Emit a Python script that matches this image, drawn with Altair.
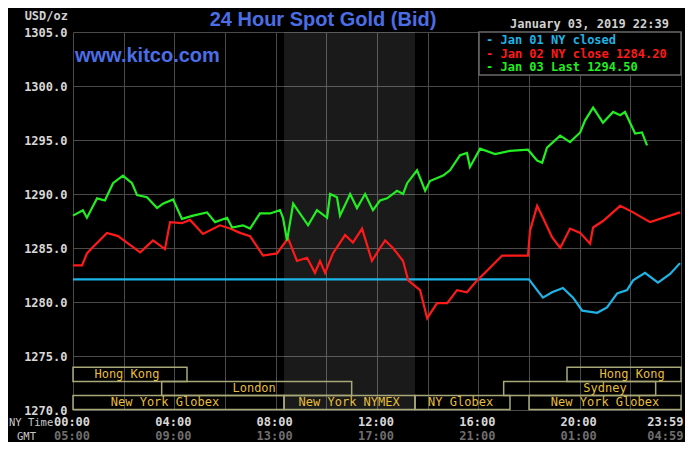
import altair as alt
import pandas as pd

# ---------------- data (hours after 00:00 NY time, USD/oz) ----------------
jan01_h = [0, 18.0, 18.32, 18.55, 18.91, 19.34, 19.74, 20.10, 20.69, 21.08, 21.48,
           21.87, 22.11, 22.58, 23.09, 23.57, 23.96]
jan01_v = [1282.1, 1282.1, 1281.1, 1280.4, 1280.9, 1281.3, 1280.4, 1279.2, 1279.0, 1279.5,
           1280.8, 1281.1, 1282.0, 1282.7, 1281.8, 1282.6, 1283.6]

jan02_h = [0, 0.36, 0.55, 0.79, 1.34, 1.78, 2.13, 2.65, 3.16, 3.63, 3.83, 4.30, 4.62, 5.13,
           5.80, 6.20, 6.59, 6.99, 7.50, 8.05, 8.49, 8.84, 9.24, 9.55, 9.75, 9.95, 10.26,
           10.74, 11.05, 11.41, 11.80, 12.12, 12.32, 12.63, 13.03, 13.23, 13.70, 13.98,
           14.37, 14.77, 15.16, 15.55, 15.95, 16.34, 16.94, 17.96, 18.04, 18.32, 18.55,
           18.91, 19.23, 19.62, 20.02, 20.41, 20.53, 20.92, 21.60, 22.11, 22.78, 23.96]
jan02_v = [1283.4, 1283.4, 1284.5, 1285.1, 1286.4, 1286.1, 1285.5, 1284.6, 1285.7, 1284.9,
           1287.4, 1287.3, 1287.6, 1286.3, 1287.1, 1286.8, 1286.4, 1286.1, 1284.3, 1284.5,
           1285.9, 1283.8, 1284.1, 1282.7, 1283.8, 1282.7, 1284.5, 1286.2, 1285.5, 1286.8,
           1283.8, 1285.0, 1285.7, 1285.0, 1283.8, 1282.0, 1281.1, 1278.5, 1279.9, 1279.9,
           1281.1, 1280.9, 1282.0, 1282.9, 1284.3, 1284.3, 1286.6, 1288.9, 1287.8, 1286.0,
           1285.0, 1286.8, 1286.4, 1285.4, 1286.9, 1287.5, 1288.9, 1288.3, 1287.4, 1288.3]

jan03_h = [0, 0.39, 0.55, 0.95, 1.26, 1.58, 1.97, 2.33, 2.53, 2.92, 3.32, 3.55, 3.95, 4.30,
           4.74, 5.29, 5.61, 6.08, 6.28, 6.71, 6.99, 7.38, 7.78, 8.17, 8.29, 8.45, 8.69, 9.28,
           9.63, 10.03, 10.15, 10.42, 10.54, 10.94, 11.21, 11.53, 11.84, 12.12, 12.40, 12.79,
           13.03, 13.19, 13.58, 13.90, 14.09, 14.61, 14.88, 15.28, 15.55, 15.67, 16.07, 16.66,
           17.25, 17.96, 18.32, 18.52, 18.71, 19.23, 19.62, 20.02, 20.21, 20.53, 20.92, 21.32,
           21.60, 21.79, 22.19, 22.46, 22.66]
jan03_v = [1288.0, 1288.5, 1287.8, 1289.6, 1289.4, 1291.0, 1291.7, 1291.0, 1289.9, 1289.7,
           1288.7, 1289.1, 1289.5, 1287.7, 1288.0, 1288.3, 1287.4, 1287.8, 1286.9, 1287.1,
           1286.8, 1288.2, 1288.2, 1288.5, 1287.8, 1285.7, 1289.1, 1287.1, 1288.5, 1287.8,
           1290.0, 1289.7, 1288.0, 1290.0, 1288.7, 1290.0, 1288.5, 1289.4, 1289.6, 1290.3,
           1290.0, 1291.0, 1292.2, 1290.3, 1291.2, 1291.7, 1292.2, 1293.6, 1293.8, 1292.5,
           1294.2, 1293.7, 1294.0, 1294.1, 1293.1, 1292.9, 1294.3, 1295.4, 1294.8, 1295.7,
           1296.8, 1298.0, 1296.6, 1297.6, 1297.3, 1297.6, 1295.6, 1295.7, 1294.5]

series_names = ["Jan 01", "Jan 02", "Jan 03"]
series_colors = ["#1eb4e6", "#ff1a1a", "#22ee22"]
legend_labels = ["- Jan 01 NY closed", "- Jan 02 NY close 1284.20", "- Jan 03 Last 1294.50"]

# trading sessions
sess_name = ["Hong Kong", "Hong Kong", "London", "Sydney",
             "New York Globex", "New York NYMEX", "NY Globex", "New York Globex"]
sess_start = [0, 19.5, 3.5, 17.0, 0, 8.33, 13.5, 18.0]
sess_end = [4.5, 24, 11.0, 23.0, 8.33, 13.5, 17.25, 24]
sess_row = [0, 0, 1, 1, 2, 2, 2, 2]
sess_label_h = [2.13, 22.07, 7.15, 21.0, 3.63, 10.9, 15.3, 21.0]

shade_start = [8.33]
shade_end = [13.5]

tick_h = [0, 4, 8, 12, 16, 20, 23.98]
tick_ny = ["00:00", "04:00", "08:00", "12:00", "16:00", "20:00", "23:59"]
tick_gmt = ["05:00", "09:00", "13:00", "17:00", "21:00", "01:00", "04:59"]

# ---------------- frames ----------------
lines = pd.concat([
    pd.DataFrame({"h": jan01_h, "v": jan01_v, "s": series_names[0]}),
    pd.DataFrame({"h": jan02_h, "v": jan02_v, "s": series_names[1]}),
    pd.DataFrame({"h": jan03_h, "v": jan03_v, "s": series_names[2]}),
], ignore_index=True)

ROW_TOP, ROW_H = 1273.95, 1.3
sess = pd.DataFrame({"name": sess_name, "start": sess_start, "end": sess_end,
                     "row": sess_row, "lab": sess_label_h})
sess["y1"] = ROW_TOP - sess["row"] * ROW_H
sess["y2"] = sess["y1"] - ROW_H
sess["ym"] = sess["y1"] - ROW_H / 2

shade = pd.DataFrame({"a": shade_start, "b": shade_end})
ticks = pd.DataFrame({"h": tick_h, "ny": tick_ny, "gmt": tick_gmt})

MONO = "DejaVu Sans Mono"
xs = alt.Scale(domain=[0, 24], nice=False, zero=False)
ys = alt.Scale(domain=[1270, 1305], nice=False, zero=False)

xaxis = alt.Axis(values=list(range(0, 25, 2)), grid=True, gridColor="#4a4a4a",
                 labels=False, ticks=False, domain=False, title=None)
yaxis = alt.Axis(values=list(range(1270, 1306, 5)), grid=True, gridColor="#4a4a4a",
                 format=".1f", labelFont=MONO, labelFontSize=12, labelFontWeight="bold",
                 labelColor="#d8d8d8", labelPadding=6, ticks=False, domain=False, title=None)

shade_layer = alt.Chart(shade).mark_rect(color="#ffffff", opacity=0.1).encode(
    x=alt.X("a:Q", scale=xs, axis=xaxis),
    x2="b:Q",
    y=alt.datum(1305, scale=ys, axis=yaxis),
    y2=alt.datum(1270),
)

sess_box = alt.Chart(sess).mark_rect(fillOpacity=0, fill="#000000", stroke="#a8a878",
                                     strokeWidth=1.5).encode(
    x=alt.X("start:Q", scale=xs), x2="end:Q",
    y=alt.Y("y1:Q", scale=ys), y2="y2:Q",
)
sess_text = alt.Chart(sess).mark_text(font=MONO, fontSize=12, color="#e6be3c",
                                      baseline="middle").encode(
    x=alt.X("lab:Q", scale=xs), y=alt.Y("ym:Q", scale=ys), text="name:N",
)

line_layer = alt.Chart(lines).mark_line(strokeWidth=2.2).encode(
    x=alt.X("h:Q", scale=xs),
    y=alt.Y("v:Q", scale=ys),
    color=alt.Color("s:N", scale=alt.Scale(domain=series_names, range=series_colors),
                    legend=None),
    detail="s:N",
)

one = alt.Data(values=[{}])
legend_box = alt.Chart(one).mark_rect(fill="#000000", stroke="#6a6a6a", strokeWidth=1.5).encode(
    x=alt.value(406), x2=alt.value(608), y=alt.value(0), y2=alt.value(43))

legend_layers = []
for i, (lab, col) in enumerate(zip(legend_labels, series_colors)):
    legend_layers.append(
        alt.Chart(alt.Data(values=[{"t": lab}])).mark_text(
            font=MONO, fontSize=12, fontWeight="bold", color=col, align="left",
            baseline="middle").encode(
            x=alt.value(413), y=alt.value(8 + i * 13.5), text="t:N"))

NY_Y, GMT_Y = 394, 408
ny_main = alt.Chart(ticks).transform_filter("datum.h < 23").mark_text(
    font=MONO, fontSize=12, fontWeight="bold", color="#d8d8d8", baseline="alphabetic", dx=-1
).encode(x=alt.X("h:Q", scale=xs), y=alt.value(NY_Y), text="ny:N")
ny_last = alt.Chart(ticks).transform_filter("datum.h > 23").mark_text(
    font=MONO, fontSize=12, fontWeight="bold", color="#d8d8d8", baseline="alphabetic",
    align="right", dx=3).encode(x=alt.X("h:Q", scale=xs), y=alt.value(NY_Y), text="ny:N")
gmt_main = alt.Chart(ticks).transform_filter("datum.h < 23").mark_text(
    font=MONO, fontSize=12, fontWeight="bold", color="#6e6e6e", baseline="alphabetic", dx=-1
).encode(x=alt.X("h:Q", scale=xs), y=alt.value(GMT_Y), text="gmt:N")
gmt_last = alt.Chart(ticks).transform_filter("datum.h > 23").mark_text(
    font=MONO, fontSize=12, fontWeight="bold", color="#6e6e6e", baseline="alphabetic",
    align="right", dx=3).encode(x=alt.X("h:Q", scale=xs), y=alt.value(GMT_Y), text="gmt:N")

def label(txt, x, y, color, font=MONO, size=12, weight="normal", align="left"):
    return alt.Chart(alt.Data(values=[{"t": txt}])).mark_text(
        font=font, fontSize=size, fontWeight=weight, color=color, align=align,
        baseline="alphabetic").encode(x=alt.value(x), y=alt.value(y), text="t:N")

title = label("24 Hour Spot Gold (Bid)", 250, -6, "#4a6ee6", font="Liberation Sans",
              size=20, weight="bold", align="center")
site = label("www.kitco.com", 2, 30, "#4a6ee6", font="Liberation Sans", size=20,
             weight="bold")
date = label("January 03, 2019 22:39", 596, -4, "#d0d0d0", weight="bold", align="right")
unit = label("USD/oz", -5, -12, "#d0d0d0", weight="bold", align="right")
nytime = label("NY Time", -64, NY_Y, "#c8c8c8", size=10.5)
gmt = label("GMT", -56, GMT_Y, "#c8c8c8", size=10.5)

chart = alt.layer(
    shade_layer, sess_box, line_layer, sess_text, legend_box, *legend_layers,
    ny_main, ny_last, gmt_main, gmt_last, title, site, date, unit, nytime, gmt,
).properties(
    width=608, height=378,
    padding={"left": 65, "top": 24, "right": 4, "bottom": 32},
    autosize=alt.AutoSizeParams(type="none"),
    background="#000000",
).configure_view(stroke=None)

chart.save("out.html", embed_options={"renderer": "svg", "actions": False})
